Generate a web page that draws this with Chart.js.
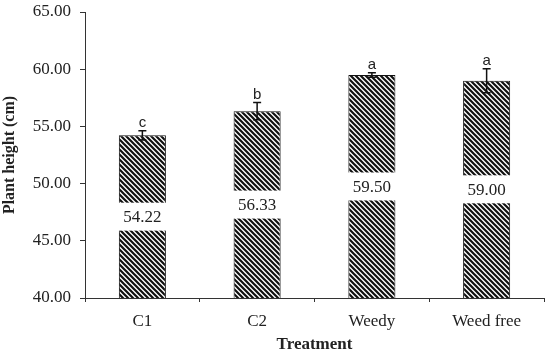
<!DOCTYPE html>
<html>
<head>
<meta charset="utf-8">
<script src="https://cdn.jsdelivr.net/npm/chart.js@4"></script>
<style>
  body { margin: 0; background: #fff; }
  #wrap { width: 550px; height: 357px; }
</style>
</head>
<body>
<div id="wrap"><canvas id="chart" width="550" height="357"></canvas></div>
<script>
// data
const treatments = ["C1", "C2", "Weedy", "Weed free"];
const plantHeight = [54.22, 56.33, 59.50, 59.00];
const stdError = [0.4, 0.75, 0.2, 1.05];
const groupLetters = ["c", "b", "a", "a"];
const yTicks = [40, 45, 50, 55, 60, 65];

const BAR_FRACTION = 0.41;

// diagonal hatch fill
function makeHatch() {
  const c = document.createElement("canvas");
  c.width = 5; c.height = 5;
  const g = c.getContext("2d");
  g.fillStyle = "#fff";
  g.fillRect(0, 0, 5, 5);
  g.strokeStyle = "#111";
  g.lineWidth = 2.2;
  g.beginPath();
  g.moveTo(-1, -1); g.lineTo(6, 6);
  g.moveTo(-1, 4); g.lineTo(1, 6);
  g.moveTo(4, -1); g.lineTo(6, 1);
  g.stroke();
  return g.createPattern(c, "repeat");
}

// error bars, letters and the boxed value labels
const annotate = {
  id: "annotate",
  afterDatasetsDraw(chart) {
    const ctx = chart.ctx;
    const xs = chart.scales.x;
    const y = chart.scales.y;
    const w = xs.width / treatments.length * BAR_FRACTION;
    const base = y.getPixelForValue(y.min);
    ctx.save();
    plantHeight.forEach((v, i) => {
      const x = xs.getPixelForValue(i);
      const topPx = y.getPixelForValue(v);
      // value label box, cuts through the bar
      const mid = (topPx + base) / 2;
      ctx.fillStyle = "#fff";
      ctx.fillRect(x - w / 2 - 1, mid - 14, w + 2, 28);
      ctx.fillStyle = "#222";
      ctx.font = "17px 'Liberation Serif'";
      ctx.textAlign = "center";
      ctx.textBaseline = "middle";
      ctx.fillText(v.toFixed(2), x, mid + 1);
      // error bar
      const top = y.getPixelForValue(v + stdError[i]);
      const bot = y.getPixelForValue(v - stdError[i]);
      ctx.strokeStyle = "#111";
      ctx.lineWidth = 1.5;
      ctx.beginPath();
      ctx.moveTo(x, top); ctx.lineTo(x, bot);
      ctx.moveTo(x - 4, top); ctx.lineTo(x + 4, top);
      ctx.moveTo(x - 4, bot); ctx.lineTo(x + 4, bot);
      ctx.stroke();
      // significance letter
      ctx.fillStyle = "#222";
      ctx.font = "15px 'Liberation Sans'";
      ctx.textBaseline = "alphabetic";
      ctx.fillText(groupLetters[i], x, top - 4);
    });
    ctx.restore();
  }
};

new Chart(document.getElementById("chart"), {
  type: "bar",
  data: {
    labels: treatments,
    datasets: [{
      data: plantHeight,
      backgroundColor: makeHatch(),
      borderColor: "#111",
      borderWidth: 1,
      borderSkipped: false,
      categoryPercentage: 1,
      barPercentage: BAR_FRACTION
    }]
  },
  options: {
    responsive: false,
    animation: false,
    layout: { padding: { left: 0, right: 6, top: 12, bottom: 0 } },
    plugins: { legend: { display: false }, tooltip: { enabled: false } },
    scales: {
      x: {
        afterFit(scale) { scale.height = 59; scale.paddingLeft = 0; scale.paddingRight = 0; },
        grid: { drawOnChartArea: false, drawTicks: true, tickLength: 4, color: "#333", offset: true },
        border: { display: true, color: "#333", width: 1 },
        ticks: { color: "#222", font: { family: "Liberation Serif", size: 17 }, padding: 9 },
        title: { display: true, text: "Treatment", color: "#222",
                 font: { family: "Liberation Serif", size: 17, weight: "bold" }, padding: { top: 0, bottom: 2 } }
      },
      y: {
        min: 40,
        max: 65,
        afterBuildTicks(scale) { scale.ticks = yTicks.map(v => ({ value: v })); },
        afterFit(scale) { scale.width = 85; scale.paddingTop = 0; scale.paddingBottom = 0; },
        grid: { drawOnChartArea: false, drawTicks: true, tickLength: 5, color: "#333" },
        border: { display: true, color: "#333", width: 1 },
        ticks: { color: "#222", font: { family: "Liberation Serif", size: 17 }, padding: 9,
                 callback: v => Number(v).toFixed(2) },
        title: { display: true, text: "Plant height (cm)", color: "#222",
                 font: { family: "Liberation Serif", size: 16, weight: "bold" }, padding: { top: 0, bottom: 2 } }
      }
    }
  },
  plugins: [annotate]
});
</script>
</body>
</html>
